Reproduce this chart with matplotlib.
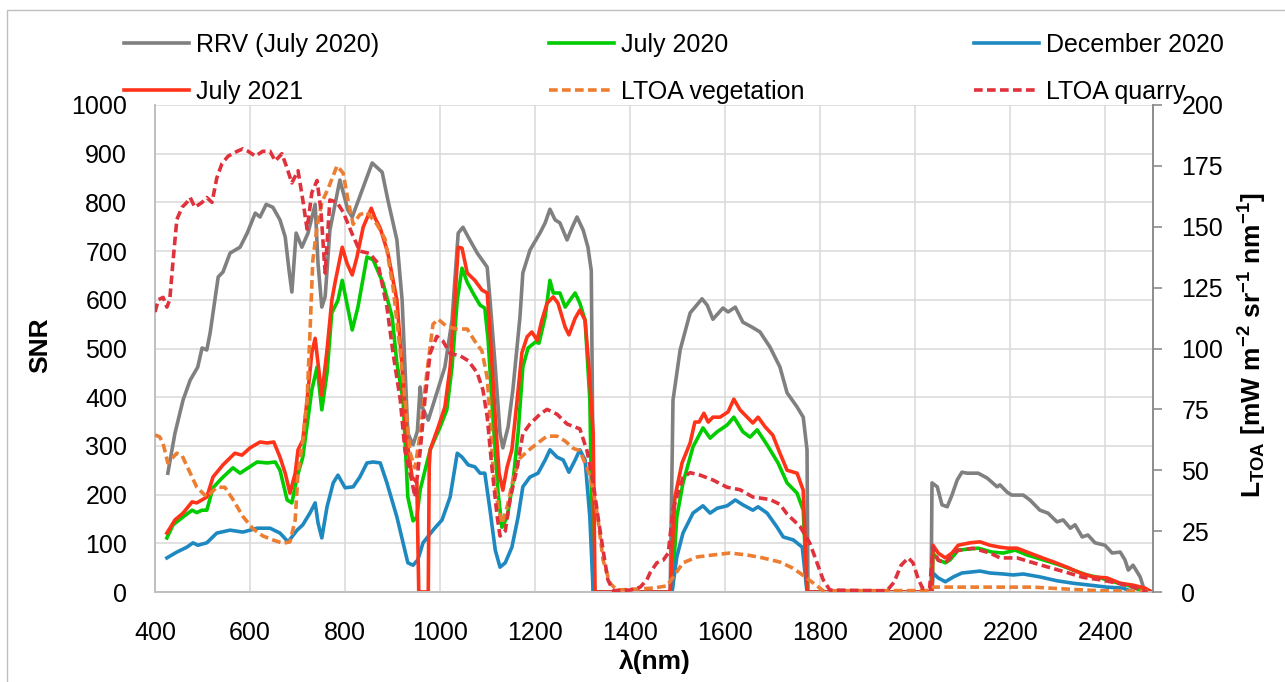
import matplotlib
matplotlib.use("Agg")
import matplotlib.pyplot as plt
from matplotlib.patches import Rectangle

plt.rcParams['font.family'] = ['Liberation Sans', 'DejaVu Sans']
plt.rcParams['mathtext.fontset'] = 'custom'
plt.rcParams['mathtext.rm'] = 'Liberation Sans'
plt.rcParams['mathtext.bf'] = 'Liberation Sans:bold'
plt.rcParams['mathtext.it'] = 'Liberation Sans:italic'

# ---- SNR series (left axis) ----
rrv_wl = [427, 442, 459, 474, 490, 499, 509, 516, 533, 543, 558, 579, 594, 611, 621, 634, 648, 663,
          674, 682, 688, 697, 709, 722, 737, 743, 751, 758, 768, 789, 806, 815, 857, 878, 890, 909,
          920, 926, 932, 943, 952, 958, 962, 975, 993, 1010, 1025, 1038, 1048, 1059, 1078, 1099,
          1105, 1116, 1126, 1132, 1143, 1153, 1168, 1174, 1189, 1210, 1221, 1231, 1242, 1252, 1267,
          1278, 1288, 1301, 1311, 1318, 1324, 1484, 1490, 1505, 1526, 1551, 1562, 1574, 1595, 1606,
          1621, 1637, 1656, 1673, 1694, 1715, 1730, 1751, 1764, 1772, 1774, 2033, 2035, 2046, 2056,
          2067, 2077, 2088, 2098, 2109, 2132, 2151, 2172, 2178, 2193, 2203, 2227, 2241, 2262, 2279,
          2298, 2311, 2326, 2336, 2351, 2363, 2378, 2399, 2414, 2431, 2441, 2448, 2458, 2473, 2483]
rrv_snr = [244, 326, 394, 435, 462, 501, 497, 532, 647, 657, 696, 708, 737, 778, 770, 796, 790, 764,
           729, 661, 616, 737, 708, 737, 796, 675, 585, 606, 743, 846, 784, 770, 881, 862, 805, 723,
           599, 462, 326, 302, 330, 421, 380, 353, 409, 462, 558, 737, 749, 729, 696, 667,
           599, 462, 326, 296, 339, 415, 565, 655, 702, 737, 758, 786, 764, 758, 723,
           749, 770, 743, 708, 660, 0, 0, 394, 497, 573, 602, 589, 560, 583, 575,
           585, 554, 544, 534, 503, 462, 409, 380, 359, 292, 0, 0, 224, 216, 179,
           175, 199, 230, 246, 244, 244, 234, 216, 220, 205, 199, 199, 189, 168, 162,
           144, 148, 131, 138, 113, 117, 101, 96, 80, 82, 66, 45, 55, 31, 0]

jul20_wl = [425, 438, 459, 478, 488, 499, 509, 522, 541, 564, 579, 615, 636, 653, 663, 678, 688, 699,
            711, 730, 741, 751, 762, 772, 785, 794, 815, 827, 846, 859, 880, 899, 909, 922, 932, 943,
            951, 958, 979, 1000, 1014, 1025, 1036, 1046, 1057, 1069, 1084, 1094, 1101, 1111, 1122,
            1130, 1141, 1153, 1164, 1174, 1185, 1200, 1208, 1221, 1231, 1238, 1252, 1263, 1273, 1284,
            1294, 1305, 1315, 1322, 1488, 1498, 1511, 1532, 1553, 1568, 1583, 1604, 1618, 1637, 1652,
            1667, 1688, 1711, 1730, 1751, 1764, 1772, 2035, 2037, 2048, 2063, 2073, 2090, 2132, 2161,
            2185, 2210, 2235, 2269, 2305, 2332, 2361, 2389, 2416, 2446, 2473, 2488]
jul20_snr = [111, 138, 154, 168, 163, 168, 168, 214, 234, 255, 244, 267, 265, 267, 250, 189, 183, 236,
             277, 415, 462, 374, 450, 573, 599, 640, 538, 585, 688, 682, 634, 565, 470, 394, 195, 146,
             154, 210, 292, 339, 374, 462, 599, 665, 636, 614, 589, 583, 517, 359, 203,
             133, 154, 224, 326, 462, 501, 513, 511, 565, 640, 614, 614, 585, 599, 614,
             593, 558, 394, 0, 0, 154, 224, 298, 337, 316, 329, 343, 359, 329, 318,
             333, 302, 265, 224, 203, 168, 0, 0, 80, 66, 60, 66, 86, 90, 82,
             80, 86, 76, 66, 55, 45, 35, 29, 21, 14, 4, 0]

dec20_wl = [425, 446, 467, 480, 490, 509, 530, 558, 585, 615, 642, 663, 680, 699, 711, 726, 737, 743,
            751, 762, 775, 785, 800, 817, 831, 846, 859, 874, 888, 909, 922, 932, 943, 953, 964, 985,
            1004, 1021, 1036, 1046, 1059, 1073, 1084, 1094, 1105, 1116, 1126, 1137, 1151, 1164, 1174,
            1189, 1206, 1221, 1231, 1246, 1259, 1271, 1284, 1294, 1305, 1315, 1322, 1488, 1498, 1511,
            1532, 1553, 1568, 1583, 1604, 1621, 1637, 1658, 1669, 1688, 1709, 1722, 1743, 1762, 1772,
            2035, 2037, 2048, 2063, 2080, 2098, 2136, 2157, 2185, 2206, 2227, 2262, 2298, 2332, 2368,
            2403, 2437, 2458]
dec20_snr = [70, 82, 92, 101, 96, 101, 121, 127, 123, 131, 131, 121, 103, 127, 138, 162, 183, 142,
             111, 175, 224, 240, 214, 216, 236, 265, 267, 265, 224, 154, 101, 60, 55, 66, 101, 127,
             148, 195, 285, 277, 261, 257, 244, 244, 168, 86, 51, 60, 92, 154, 216,
             236, 244, 271, 292, 277, 271, 246, 271, 292, 271, 154, 0, 0, 72, 121,
             162, 177, 162, 172, 177, 189, 179, 168, 175, 162, 133, 113, 107, 92, 0,
             0, 39, 29, 21, 31, 39, 43, 39, 37, 35, 37, 31, 23, 18, 14,
             10, 8, 0]

jul21_wl = [425, 442, 459, 478, 488, 509, 522, 543, 568, 583, 600, 621, 636, 650, 663, 674, 684, 695,
            701, 711, 720, 730, 737, 743, 751, 762, 772, 779, 794, 804, 815, 825, 838, 855, 863, 874,
            890, 909, 920, 930, 941, 951, 955, 975, 977, 979, 996, 1010, 1021, 1031, 1038, 1046, 1057,
            1073, 1088, 1099, 1105, 1116, 1124, 1132, 1141, 1151, 1162, 1172, 1183, 1193, 1204, 1214,
            1225, 1238, 1248, 1263, 1271, 1284, 1294, 1305, 1313, 1322, 1326, 1484, 1494, 1509, 1526,
            1536, 1545, 1555, 1564, 1574, 1589, 1606, 1618, 1631, 1646, 1658, 1669, 1684, 1700, 1715,
            1730, 1751, 1764, 1772, 2035, 2037, 2048, 2063, 2077, 2090, 2115, 2136, 2157, 2178, 2195,
            2214, 2235, 2262, 2290, 2319, 2347, 2374, 2403, 2431, 2458, 2483, 2498]
jul21_snr = [121, 148, 162, 185, 183, 195, 236, 261, 285, 281, 296, 308, 306, 308, 277, 244, 203, 244,
             292, 312, 394, 491, 521, 470, 404, 497, 599, 636, 708, 675, 651, 688, 749, 788, 768, 747,
             696, 599, 462, 312, 236, 225, 0, 0, 257, 292, 339, 380, 462, 599, 708, 706, 655,
             640, 620, 614, 532, 359, 244, 209, 257, 292, 394, 491, 524, 534, 517, 558,
             593, 606, 593, 544, 528, 562, 579, 558, 462, 326, 0, 0, 195, 265, 306,
             349, 349, 367, 349, 359, 359, 370, 396, 374, 359, 347, 359, 339, 322, 285,
             250, 244, 209, 0, 0, 96, 80, 70, 80, 96, 101, 103, 96, 92, 90,
             90, 82, 72, 62, 51, 39, 31, 29, 18, 14, 8, 0]

# ---- LTOA series (right axis) ----
veg_wl = [400, 410, 417, 427, 446, 457, 469, 488, 509, 530, 547, 564, 585, 606, 627, 648, 669, 684,
          695, 701, 711, 720, 726, 732, 741, 751, 765, 783, 796, 806, 817, 831, 846, 867, 884, 901,
          916, 926, 937, 947, 958, 972, 985, 996, 1014, 1036, 1057, 1073, 1088, 1099, 1105, 1111,
          1122, 1130, 1141, 1153, 1168, 1185, 1204, 1225, 1246, 1263, 1280, 1294, 1311, 1322, 1332,
          1343, 1357, 1372, 1448, 1477, 1490, 1511, 1541, 1574, 1610, 1646, 1679, 1715, 1740, 1757,
          1785, 1806, 2030, 2037, 2094, 2178, 2248, 2319, 2389, 2500]
veg_ltoa = [64.5, 63.7, 61, 53, 57, 56, 51, 43, 39, 43, 43, 38, 31, 26, 23, 21.4, 20, 20.6,
            29.6, 49, 62, 79, 106, 136, 150, 160, 166, 175, 172, 161, 151, 155, 156, 151, 145, 125,
            99, 79, 57, 51, 65, 90, 110, 112, 109, 108, 108, 103, 99, 88, 72, 51,
            35, 28, 35, 46, 55, 58, 61, 64, 64, 62, 59, 58, 50, 42, 30,
            13, 3.7, 0.8, 1.6, 2.5, 6, 12, 14.4, 15.2, 16, 15.2, 14, 12.3, 10, 7.8,
            3.7, 0.5, 0.6, 2, 2, 2, 2, 1.2, 0.5, 0.3]

quarry_wl = [400, 407, 417, 425, 431, 438, 446, 457, 467, 474, 484, 499, 509, 520, 530, 541, 554, 573,
             585, 596, 611, 627, 642, 653, 667, 678, 688, 701, 711, 720, 730, 741, 749, 758, 768, 783,
             796, 815, 831, 852, 869, 888, 901, 916, 926, 941, 947, 958, 968, 979, 993, 1006, 1021,
             1042, 1059, 1078, 1090, 1099, 1109, 1120, 1126, 1137, 1147, 1162, 1174, 1189, 1210, 1225,
             1246, 1267, 1280, 1294, 1309, 1322, 1332, 1343, 1353, 1364, 1400, 1421, 1435, 1442, 1456,
             1469, 1480, 1490, 1511, 1526, 1547, 1574, 1604, 1631, 1658, 1694, 1715, 1730, 1757, 1778,
             1793, 1806, 1820, 1940, 1955, 1970, 1985, 1995, 2005, 2015, 2030, 2037, 2048, 2063, 2088,
             2121, 2157, 2178, 2214, 2248, 2283, 2319, 2353, 2389, 2424, 2458, 2488]
quarry_ltoa = [115, 120, 121, 117, 120, 136, 153, 158, 160, 162, 158, 160, 162, 160, 170, 176, 179, 181,
               182, 181, 179, 181, 181, 177, 180, 174, 168, 173, 161, 149, 164, 169, 157, 131, 161, 160,
               156, 147, 140, 139, 135, 117, 98, 79, 58, 45, 39, 58, 79, 98, 105, 103, 98,
               97, 95, 90, 83, 72, 51, 31, 23, 25, 38, 51, 65, 69, 73, 75,
               73, 69, 68, 67, 58, 45, 31, 17, 5, 0.6, 0.8, 2, 5, 8, 12,
               13, 16, 34, 47, 49, 48, 46, 43, 42, 39, 38, 36, 32, 27, 20,
               12, 5, 0.8, 0.5, 4, 11, 14, 12, 6, 1.5, 1.5, 18.5, 13, 12, 17,
               18, 16, 14, 14, 12, 10, 8, 6, 5, 3.7, 2, 0]

W, H = 1285, 682
fig = plt.figure(figsize=(W / 100, H / 100), dpi=100)
ax = fig.add_axes([155 / W, 1 - 592 / H, (1153 - 155) / W, (592 - 105) / H])
ax2 = ax.twinx()

lw = 2.6
dash = (2.4, 1.2)
l_rrv, = ax.plot(rrv_wl, rrv_snr, color='#808080', lw=lw, label='RRV (July 2020)')
l_j20, = ax.plot(jul20_wl, jul20_snr, color='#00CC00', lw=lw, label='July 2020')
l_d20, = ax.plot(dec20_wl, dec20_snr, color='#1E88C0', lw=lw, label='December 2020')
l_j21, = ax.plot(jul21_wl, jul21_snr, color='#FF3319', lw=lw, label='July 2021')
l_veg, = ax2.plot(veg_wl, veg_ltoa, color='#ED7D31', lw=lw, dashes=dash, label='LTOA vegetation')
l_qry, = ax2.plot(quarry_wl, quarry_ltoa, color='#E0323C', lw=lw, dashes=dash, label='LTOA quarry')

ax.set_xlim(400, 2500)
ax.set_ylim(0, 1000)
ax2.set_ylim(0, 200)
ax.set_xticks(range(400, 2401, 200))
ax.set_yticks(range(0, 1001, 100))
ax2.set_yticks(range(0, 201, 25))

ax.set_axisbelow(True)
ax.grid(True, color='#D9D9D9', lw=1.1)

for a in (ax, ax2):
    a.spines['top'].set_visible(False)
ax.spines['left'].set_color('#BFBFBF')
ax.spines['bottom'].set_color('#BFBFBF')
ax.spines['left'].set_linewidth(1.4)
ax.spines['bottom'].set_linewidth(1.4)
ax.spines['right'].set_visible(False)
ax2.spines['left'].set_visible(False)
ax2.spines['bottom'].set_visible(False)
ax2.spines['right'].set_color('#8C8C8C')
ax2.spines['right'].set_linewidth(1.4)

ax.tick_params(axis='y', length=0, pad=20, labelsize=18)
ax.tick_params(axis='x', length=0, pad=21, labelsize=18)
ax2.tick_params(axis='y', length=6.5, width=1.2, color='#8C8C8C', direction='out', pad=14, labelsize=18)

fig.text(40 / W, 1 - 345 / H, 'SNR', rotation=90, ha='center', va='center',
         fontsize=19, fontweight='bold')
fig.text(655 / W, 1 - 662 / H, 'λ(nm)', ha='center', va='center', fontsize=19, fontweight='bold')
fig.text(1253 / W, 1 - 345 / H, r'$\mathbf{L_{TOA}\ [mW\ m^{-2}\ sr^{-1}\ nm^{-1}]}$',
         rotation=90, ha='center', va='center', fontsize=19)

handles = [l_rrv, l_j21, l_j20, l_veg, l_d20, l_qry]
fig.legend(handles, [h.get_label() for h in handles], ncol=3, mode='expand', loc='upper left',
           bbox_to_anchor=(124 / W, 1 - 105 / H, 1100 / W, 72 / H), frameon=False, fontsize=18,
           handlelength=2.6, handletextpad=0.3, labelspacing=0.9, borderaxespad=0, borderpad=0)

fig.patches.append(Rectangle((7 / W, -0.1), 2, 1 - 10 / H + 0.1, transform=fig.transFigure,
                             fill=False, edgecolor='#BFBFBF', lw=1))

fig.savefig('out.png', dpi=100)
